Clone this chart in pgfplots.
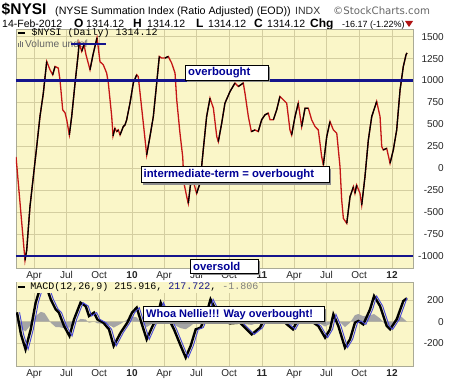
\documentclass[border=0pt]{standalone}
\usepackage{pgfplots}
\pgfplotsset{compat=1.18}
\usepackage{fontspec}
\setmainfont{Liberation Sans}
\newfontfamily\mono{Liberation Mono}
\newfontfamily\dejavu{DejaVu Sans}
\definecolor{panelbg}{RGB}{250,246,200}
\definecolor{gridc}{RGB}{212,206,160}
\definecolor{framec}{RGB}{170,170,150}
\definecolor{redc}{RGB}{196,22,22}
\definecolor{navyc}{RGB}{20,20,140}
\definecolor{textblue}{RGB}{0,0,150}
\definecolor{sigc}{RGB}{70,70,215}
\definecolor{histc}{RGB}{165,165,165}
\definecolor{shadowc}{RGB}{140,140,140}
\pgfplotsset{
 common/.style={
  scale only axis, width=397pt,
  xmin=2009.1077, xmax=2012.1615,
  xtick={2009.2466,2009.4959,2009.7479,2010,2010.2466,2010.4959,2010.7479,2011,2011.2466,2011.4959,2011.7479,2012},
  xticklabels={Apr,Jul,Oct,\textbf{10},Apr,Jul,Oct,\textbf{11},Apr,Jul,Oct,\textbf{12}},
  grid=major, grid style={draw=gridc, line width=0.5pt},
  axis background/.style={fill=panelbg},
  axis line style={draw=framec, line width=0.5pt},
  major tick length=0pt,
  yticklabel pos=right,
  yticklabel style={anchor=east, xshift=31pt, inner sep=0pt},
  xticklabel style={inner sep=0pt, yshift=-3pt},
  ticklabel style={font=\fontsize{10}{12}\selectfont, text=black!85},
  /pgf/number format/assume math mode=true,
  /pgf/number format/1000 sep={},
 }
}
\begin{document}
\begin{tikzpicture}[x=1pt,y=1pt]
\path[use as bounding box] (0,0) rectangle (460,383);
\fill[white] (0,0) rectangle (460,383);

% ---------- header ----------
\node[anchor=base west, inner sep=0] at (1.5,368) {\fontsize{15.5}{17}\selectfont\bfseries \$NYSI};
\node[anchor=base west, inner sep=0] at (55,368) {\fontsize{10.7}{12}\selectfont (NYSE Summation Index (Ratio Adjusted) (EOD))};
\node[anchor=base west, inner sep=0, text=black!80] at (295,368) {\fontsize{10.5}{12}\selectfont INDX};
\node[anchor=base west, inner sep=0, text=black!60] at (333,368) {\dejavu\fontsize{10.2}{12}\selectfont ©StockCharts.com};
\node[anchor=base west, inner sep=0] at (2,355.5) {\fontsize{10.5}{12}\selectfont 14-Feb-2012};
\node[anchor=base west, inner sep=0] at (74,355.5) {\fontsize{12}{13}\selectfont\bfseries O};
\node[anchor=base west, inner sep=0] at (86,355.5) {\fontsize{10.5}{12}\selectfont 1314.12};
\node[anchor=base west, inner sep=0] at (133,355.5) {\fontsize{12}{13}\selectfont\bfseries H};
\node[anchor=base west, inner sep=0] at (147,355.5) {\fontsize{10.5}{12}\selectfont 1314.12};
\node[anchor=base west, inner sep=0] at (196,355.5) {\fontsize{12}{13}\selectfont\bfseries L};
\node[anchor=base west, inner sep=0] at (208,355.5) {\fontsize{10.5}{12}\selectfont 1314.12};
\node[anchor=base west, inner sep=0] at (254,355.5) {\fontsize{12}{13}\selectfont\bfseries C};
\node[anchor=base west, inner sep=0] at (267,355.5) {\fontsize{10.5}{12}\selectfont 1314.12};
\node[anchor=base west, inner sep=0] at (310,355.5) {\fontsize{12}{13}\selectfont\bfseries Chg};
\node[anchor=base west, inner sep=0] at (342,355.5) {\fontsize{9}{11}\selectfont -16.17 (-1.22\%)};
\fill[redc!90!black] (405,362) -- (413,362) -- (409,356) -- cycle;

% ---------- main panel ----------
\begin{axis}[common, at={(16pt,115pt)}, anchor=south west, height=239pt,
  ymin=-1136, ymax=1587,
  ytick={-1000,-750,-500,-250,0,250,500,750,1000,1250,1500},
  unbounded coords=jump]
\draw[black, line width=2pt] (rel axis cs:0.005,0.9833) -- (rel axis cs:0.0227,0.9833);
\node[anchor=west, inner sep=0] at (rel axis cs:0.039,0.9833) {\mono\fontsize{10}{12}\selectfont \$NYSI (Daily) 1314.12};
\fill[black!55] (rel axis cs:0.005,0.925) rectangle (rel axis cs:0.0085,0.940);
\fill[black!55] (rel axis cs:0.0095,0.925) rectangle (rel axis cs:0.013,0.950);
\fill[black!55] (rel axis cs:0.014,0.925) rectangle (rel axis cs:0.0175,0.945);
\node[anchor=west, inner sep=0, text=black!60] at (rel axis cs:0.0227,0.9372) {\fontsize{10.2}{12}\selectfont Volume undef};

\addplot[redc, line width=1.3pt] table {
t v
2009.108 130
2009.177 -1050
2009.190 -933
2009.215 -439
2009.241 -96
2009.267 247
2009.292 589
2009.318 857
2009.344 1217
2009.369 1123
2009.390 1065
2009.408 1160
2009.433 1142
2009.446 1008
2009.467 666
2009.485 632
2009.498 552
2009.518 381
2009.536 589
2009.562 971
2009.587 1313
2009.593 1431
2009.613 1332
2009.631 1408
2009.646 1294
2009.677 1123
2009.700 1294
2009.731 1488
2009.754 1214
2009.779 1180
2009.805 1085
2009.818 971
2009.831 780
2009.844 589
2009.854 369
2009.869 457
2009.882 418
2009.895 437
2009.908 380
2009.933 475
2009.946 494
2009.959 552
2009.985 746
2010.010 971
2010.036 1065
2010.048 1046
2010.062 856
2010.087 514
2010.113 152
2010.138 361
2010.164 589
2010.190 971
2010.210 1274
2010.228 1256
2010.254 1256
2010.279 1274
2010.305 1199
2010.331 1085
2010.344 780
2010.369 400
2010.390 132
2010.400 -171
2010.421 -324
2010.433 -400
2010.451 -171
2010.469 -134
2010.497 -286
2010.523 -171
2010.548 209
2010.574 589
2010.600 799
2010.626 685
2010.652 361
2010.664 304
2010.690 514
2010.715 742
2010.754 875
2010.792 971
2010.818 932
2010.856 971
2010.869 856
2010.895 589
2010.918 418
2010.946 437
2010.971 418
2010.997 552
2011.023 609
2011.048 628
2011.062 552
2011.087 552
2011.113 666
2011.138 818
2011.164 780
2011.190 742
2011.215 437
2011.228 380
2011.254 589
2011.279 742
2011.305 475
2011.331 685
2011.356 685
2011.382 552
2011.408 475
2011.433 437
2011.459 132
2011.472 38
2011.498 361
2011.523 532
2011.549 437
2011.575 400
2011.600 18
2011.613 -362
2011.626 -571
2011.652 -628
2011.677 -324
2011.703 -210
2011.715 -286
2011.728 -191
2011.754 -286
2011.767 -419
2011.792 -96
2011.818 323
2011.844 589
2011.882 761
2011.908 589
2011.921 247
2011.933 209
2011.959 228
2011.985 57
2012.010 209
2012.036 437
2012.062 894
2012.087 1160
2012.108 1294
2012.115 1314
};
% rising stretches drawn in black
\addplot[black, line width=1.3pt] table {
t v
2009.177 -1050
2009.190 -933
2009.215 -439
2009.241 -96
2009.267 247
2009.292 589
2009.318 857
2009.344 1217
2009.350 nan
2009.390 1065
2009.408 1160
2009.410 nan
2009.518 381
2009.536 589
2009.562 971
2009.587 1313
2009.593 1431
2009.600 nan
2009.613 1332
2009.631 1408
2009.640 nan
2009.677 1123
2009.700 1294
2009.731 1488
2009.740 nan
2009.854 369
2009.869 457
2009.875 nan
2009.882 418
2009.895 437
2009.900 nan
2009.908 380
2009.933 475
2009.946 494
2009.959 552
2009.985 746
2010.010 971
2010.036 1065
2010.040 nan
2010.113 152
2010.138 361
2010.164 589
2010.190 971
2010.210 1274
2010.220 nan
2010.254 1256
2010.279 1274
2010.290 nan
2010.433 -400
2010.451 -171
2010.469 -134
2010.480 nan
2010.497 -286
2010.523 -171
2010.548 209
2010.574 589
2010.600 799
2010.610 nan
2010.664 304
2010.690 514
2010.715 742
2010.754 875
2010.792 971
2010.800 nan
2010.818 932
2010.856 971
2010.860 nan
2010.918 418
2010.946 437
2010.955 nan
2010.971 418
2010.997 552
2011.023 609
2011.048 628
2011.055 nan
2011.087 552
2011.113 666
2011.138 818
2011.150 nan
2011.228 380
2011.254 589
2011.279 742
2011.290 nan
2011.305 475
2011.331 685
2011.356 685
2011.365 nan
2011.472 38
2011.498 361
2011.523 532
2011.535 nan
2011.652 -628
2011.677 -324
2011.703 -210
2011.710 nan
2011.715 -286
2011.728 -191
2011.740 nan
2011.767 -419
2011.792 -96
2011.818 323
2011.844 589
2011.882 761
2011.890 nan
2011.933 209
2011.959 228
2011.970 nan
2011.985 57
2012.010 209
2012.036 437
2012.062 894
2012.087 1160
2012.108 1294
2012.115 1314
};
\addplot[navyc, line width=2.4pt] coordinates {(2009.1077,1000) (2012.1615,1000)};
\addplot[navyc, line width=2.4pt] coordinates {(2009.1077,-1000) (2012.1615,-1000)};
\addplot[navyc, line width=2pt] coordinates {(2009.531,1415) (2009.800,1415)};
\end{axis}

% ---------- MACD panel ----------
\begin{axis}[common, at={(16pt,17pt)}, anchor=south west, height=83.3pt,
  ymin=-409, ymax=359, ytick={-200,0,200}]
\addplot[fill=histc, draw=none] coordinates {
(2009.108,0) (2009.115,-10) (2009.146,-60) (2009.181,-90) (2009.221,-30)
(2009.259,50) (2009.298,90) (2009.327,80) (2009.349,40) (2009.375,-10)
(2009.413,-50) (2009.438,-50) (2009.477,-60) (2009.519,-55) (2009.554,-20)
(2009.604,25) (2009.644,20) (2009.669,-10) (2009.708,0) (2009.733,-15)
(2009.779,-20) (2009.823,-30) (2009.859,-55) (2009.913,-20) (2009.964,20)
(2010.000,45) (2010.036,40) (2010.069,-10) (2010.113,-50) (2010.154,-20)
(2010.195,20) (2010.221,45) (2010.272,10) (2010.323,-30) (2010.375,-60)
(2010.413,-70) (2010.451,-40) (2010.490,0) (2010.528,20) (2010.567,40)
(2010.604,60) (2010.631,40) (2010.677,0) (2010.754,-15) (2010.831,-10)
(2010.882,-25) (2010.921,-30) (2010.985,-5) (2011.023,20) (2011.077,30)
(2011.138,5) (2011.192,-25) (2011.238,-30) (2011.277,0) (2011.323,30)
(2011.395,10) (2011.433,-10) (2011.485,-45) (2011.523,-20) (2011.549,20)
(2011.587,10) (2011.638,-50) (2011.677,-10) (2011.715,60) (2011.741,70)
(2011.779,50) (2011.831,60) (2011.862,70) (2011.908,30) (2011.959,-40)
(2011.985,-60) (2012.036,40) (2012.062,55) (2012.087,30) (2012.115,-2)
(2012.115,0)
};
\addplot[black, line width=2.4pt] coordinates {
(2009.115,86) (2009.146,-117) (2009.181,-255) (2009.221,-71) (2009.259,175)
(2009.298,328) (2009.327,362) (2009.349,297) (2009.375,205) (2009.413,113)
(2009.438,83) (2009.477,-40) (2009.519,-132) (2009.554,21) (2009.604,175)
(2009.644,143) (2009.669,52) (2009.708,83) (2009.733,21) (2009.779,-9)
(2009.823,-71) (2009.859,-224) (2009.913,-101) (2009.964,-9) (2010.000,83)
(2010.036,129) (2010.069,3) (2010.113,-163) (2010.154,-52) (2010.195,52)
(2010.221,175) (2010.272,52) (2010.323,-71) (2010.375,-224) (2010.413,-331)
(2010.451,-224) (2010.490,-71) (2010.528,-55) (2010.567,52) (2010.604,205)
(2010.631,141) (2010.677,21) (2010.754,-16) (2010.831,-9) (2010.882,-71)
(2010.921,-117) (2010.985,-55) (2011.023,40) (2011.077,95) (2011.138,40)
(2011.192,-25) (2011.238,-71) (2011.277,21) (2011.323,86) (2011.395,-9)
(2011.433,-40) (2011.485,-147) (2011.523,-71) (2011.549,67) (2011.587,-40)
(2011.638,-239) (2011.677,-163) (2011.715,-9) (2011.741,6) (2011.779,-25)
(2011.831,113) (2011.862,236) (2011.908,144) (2011.959,-40) (2011.985,-71)
(2012.036,21) (2012.087,190) (2012.115,216)
};
\addplot[sigc, line width=0.9pt] coordinates {
(2009.135,86) (2009.166,-117) (2009.201,-255) (2009.241,-71) (2009.279,175)
(2009.318,328) (2009.347,362) (2009.369,297) (2009.395,205) (2009.433,113)
(2009.458,83) (2009.497,-40) (2009.539,-132) (2009.574,21) (2009.624,175)
(2009.664,143) (2009.689,52) (2009.728,83) (2009.753,21) (2009.799,-9)
(2009.843,-71) (2009.879,-224) (2009.933,-101) (2009.984,-9) (2010.020,83)
(2010.056,129) (2010.089,3) (2010.133,-163) (2010.174,-52) (2010.215,52)
(2010.241,175) (2010.292,52) (2010.343,-71) (2010.395,-224) (2010.433,-331)
(2010.471,-224) (2010.510,-71) (2010.548,-55) (2010.587,52) (2010.624,205)
(2010.651,141) (2010.697,21) (2010.774,-16) (2010.851,-9) (2010.902,-71)
(2010.941,-117) (2011.005,-55) (2011.043,40) (2011.097,95) (2011.158,40)
(2011.212,-25) (2011.258,-71) (2011.297,21) (2011.343,86) (2011.415,-9)
(2011.453,-40) (2011.505,-147) (2011.543,-71) (2011.569,67) (2011.607,-40)
(2011.658,-239) (2011.697,-163) (2011.735,-9) (2011.761,6) (2011.799,-25)
(2011.851,113) (2011.882,236) (2011.928,144) (2011.979,-40) (2012.005,-71)
(2012.056,21) (2012.107,190) (2012.115,218)
};
\node[anchor=west, inner sep=1pt, fill=panelbg] at (rel axis cs:0.003,0.948) {\mono\fontsize{10}{12}\selectfont\phantom{-}\phantom{-}MACD(12,26,9) 215.916, \textcolor{navyc}{217.722}, \textcolor{black!50}{-1.806}};
\draw[black, line width=2pt] (rel axis cs:0.005,0.948) -- (rel axis cs:0.0227,0.948);
\end{axis}

% ---------- annotation boxes ----------
\fill[shadowc] (187,301) rectangle (270,316);
\filldraw[fill=white, draw=black, line width=0.8pt] (185,303) rectangle (268,318);
\node[anchor=west, inner sep=0, text=textblue] at (188,310.5) {\fontsize{11.3}{13}\selectfont\bfseries overbought};

\fill[shadowc] (143,198.3) rectangle (331.3,214.3);
\filldraw[fill=white, draw=black, line width=0.8pt] (141,200.3) rectangle (329.3,216.3);
\node[anchor=west, inner sep=0, text=textblue] at (143.5,208.3) {\fontsize{11.3}{13}\selectfont\bfseries intermediate-term = overbought};

\fill[shadowc] (192.7,107.7) rectangle (260.3,121.7);
\filldraw[fill=white, draw=black, line width=0.8pt] (190.7,109.7) rectangle (258.3,123.7);
\node[anchor=west, inner sep=0, text=textblue] at (193,116.7) {\fontsize{11.3}{13}\selectfont\bfseries oversold};

\fill[shadowc] (145.3,59.3) rectangle (326.3,74.3);
\filldraw[fill=white, draw=black, line width=0.8pt] (143.3,61.3) rectangle (324.3,76.3);
\node[anchor=west, inner sep=0, text=textblue] at (146,68.8) {\fontsize{11}{13}\selectfont\bfseries Whoa Nellie!!! Way overbought!};
\end{tikzpicture}
\end{document}
